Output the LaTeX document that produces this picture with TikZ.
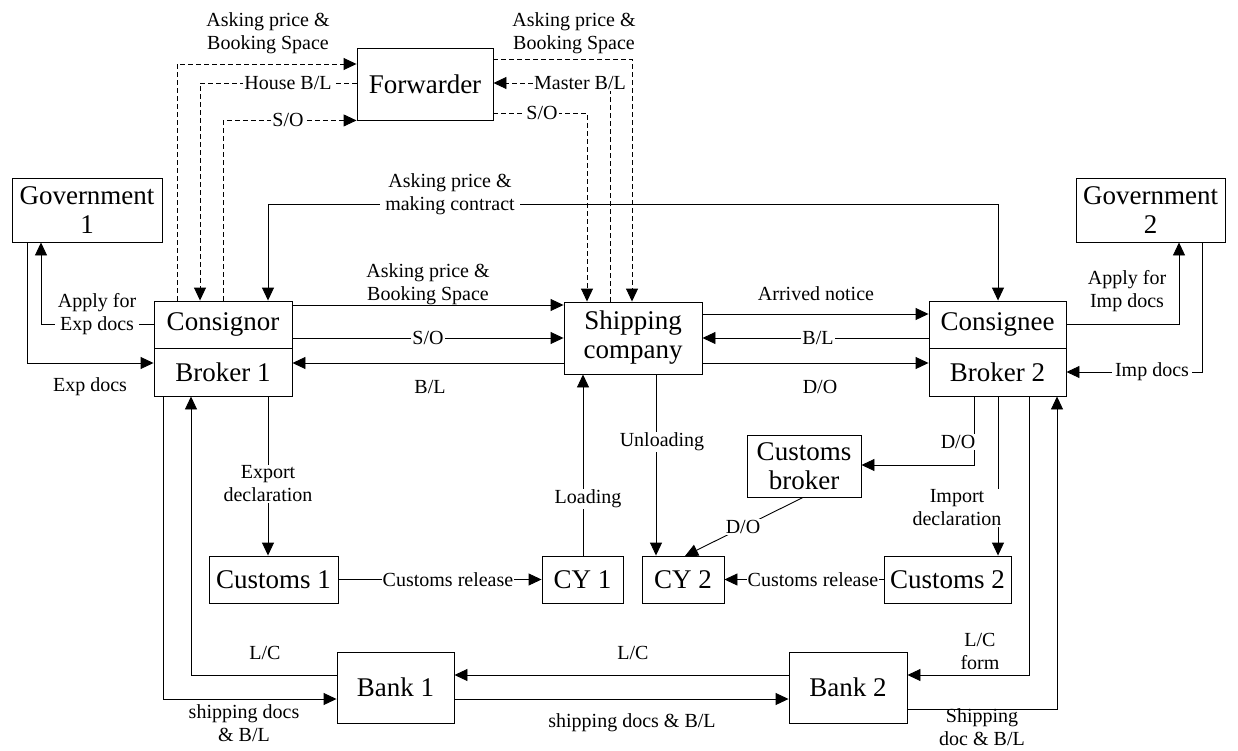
\documentclass[tikz,border=0pt]{standalone}
\usepackage{fontspec}
\setmainfont{Liberation Serif}
\usetikzlibrary{arrows.meta}
\begin{document}
\begin{tikzpicture}[x=1pt,y=-1pt,
  box/.style={draw, line width=0.9pt, inner sep=0pt, align=center,
              font=\fontsize{27}{29}\selectfont},
  lbl/.style={inner sep=1pt, align=center, font=\fontsize{20}{23}\selectfont},
  cut/.style={lbl, fill=white},
  link/.style={line width=0.9pt, -{Triangle[length=13pt,width=12pt]}},
  both/.style={line width=0.9pt,
               {Triangle[length=13pt,width=12pt]}-{Triangle[length=13pt,width=12pt]}},
  dsh/.style={link, dash pattern=on 5pt off 3pt},
]
\useasboundingbox (0,0) rectangle (1238,751);

% ---------- parties ----------
\node[box, minimum width=136pt, minimum height=72pt] (fwd)  at (425,84)     {Forwarder};
\node[box, minimum width=150pt, minimum height=64pt] (gov1) at (87,210)     {Government\\1};
\node[box, minimum width=149pt, minimum height=64pt] (gov2) at (1150.5,210) {Government\\2};
\node[box, minimum width=138pt, minimum height=47pt] (csg)  at (223,324.5)  {Consignor};
\node[box, minimum width=138pt, minimum height=48pt] (brk1) at (223,372)    {Broker 1};
\node[box, minimum width=138pt, minimum height=72pt] (ship) at (633,338)    {Shipping\\company};
\node[box, minimum width=137pt, minimum height=47pt] (csn)  at (997.5,324.5){Consignee};
\node[box, minimum width=137pt, minimum height=48pt] (brk2) at (997.5,372)  {Broker 2};
\node[box, minimum width=114pt, minimum height=62pt] (cbr)  at (804,466)    {Customs\\broker};
\node[box, minimum width=129pt, minimum height=47pt] (cus1) at (273.5,579.5){Customs 1};
\node[box, minimum width=81pt,  minimum height=47pt] (cy1)  at (582.5,579.5){CY 1};
\node[box, minimum width=82pt,  minimum height=47pt] (cy2)  at (683,579.5)  {CY 2};
\node[box, minimum width=127pt, minimum height=47pt] (cus2) at (947.5,579.5){Customs 2};
\node[box, minimum width=117pt, minimum height=71pt] (bank1) at (395.5,687.5){Bank 1};
\node[box, minimum width=118pt, minimum height=71pt] (bank2) at (848,687.5)  {Bank 2};

% ---------- bend points of the connectors ----------
\coordinate (jA) at (177,64);
\coordinate (jB) at (200,83);
\coordinate (jC) at (223,120);
\coordinate (jD) at (587,113);
\coordinate (jE) at (610,83);
\coordinate (jF) at (632,59);
\coordinate (jG) at (268,204);
\coordinate (jH) at (998,204);
\coordinate (jK) at (41,325);
\coordinate (jL) at (27,363);
\coordinate (jM) at (1179,324);
\coordinate (jN) at (1202,372);
\coordinate (jO) at (268,480);
\coordinate (jP) at (163,699);
\coordinate (jQ) at (191,675);
\coordinate (jR) at (583,500);
\coordinate (jS) at (656,450);
\coordinate (jT) at (803,497);
\coordinate (jU) at (685,556);
\coordinate (jV) at (974,465);
\coordinate (jW) at (998,500);
\coordinate (jX) at (1029,675);
\coordinate (jY) at (1057,709);
\coordinate (r1) at (430,305);
\coordinate (r2) at (430,338);
\coordinate (r3) at (430,363);
\coordinate (r4) at (816,314);

% ---------- forwarder (dashed) ----------
\draw[dsh] (csg.north -| jA) |- (fwd.west |- jA);
\draw[dsh] (fwd.west |- jB) -| (csg.north -| jB);
\draw[dsh] (csg.north -| jC) |- (fwd.south west);
\draw[dsh] (fwd.east |- jD) -| (ship.north -| jD);
\draw[dsh] (ship.north -| jE) |- (fwd.east |- jE);
\draw[dsh] (fwd.east |- jF) -| (ship.north -| jF);

% ---------- consignor / consignee / shipping company ----------
\draw[both] (csg.north -| jG) -- (jG) -- (jH) -- (csn.north -| jH);
\draw[link] (csg.east |- r1) -- (ship.west |- r1);
\draw[link] (csg.east |- r2) -- (ship.west |- r2);
\draw[link] (ship.west |- r3) -- (brk1.east |- r3);
\draw[link] (ship.east |- r4) -- (csn.west |- r4);
\draw[link] (csn.west |- r2) -- (ship.east |- r2);
\draw[link] (ship.east |- r3) -- (brk2.west |- r3);

% ---------- governments ----------
\draw[link] (csg.west) -| (gov1.south -| jK);
\draw[link] (gov1.south -| jL) |- (brk1.west |- jL);
\draw[link] (csn.east) -| (gov2.south -| jM);
\draw[link] (gov2.south -| jN) |- (brk2.east |- jN);

% ---------- customs and container yards ----------
\draw[link] (brk1.south -| jO) -- (cus1.north -| jO);
\draw[link] (cus1.east) -- (cy1.west);
\draw[link] (cy1.north -| jR) -- (ship.south -| jR);
\draw[link] (ship.south -| jS) -- (cy2.north -| jS);
\draw[link] (cbr.south -| jT) -- (jU);
\draw[link] (cus2.west) -- (cy2.east);
\draw[link] (brk2.south -| jV) |- (cbr.east |- jV);
\draw[link] (brk2.south -| jW) -- (cus2.north -| jW);

% ---------- banks ----------
\draw[link] (brk1.south -| jP) |- (bank1.west |- jP);
\draw[link] (bank1.west |- jQ) -| (brk1.south -| jQ);
\draw[link] (bank2.west |- jQ) -- (bank1.east |- jQ);
\draw[link] (bank1.east |- jP) -- (bank2.west |- jP);
\draw[link] (brk2.south -| jX) |- (bank2.east |- jX);
\draw[link] (bank2.east |- jY) -| (brk2.south -| jY);

% ---------- labels ----------
\node[lbl] (l01) at (268,33)  {Asking price \&\\Booking Space};
\node[cut] (l02) at (288,83)  {House B/L};
\node[cut] (l03) at (288,120) {S/O};
\node[lbl] (l04) at (574,33)  {Asking price \&\\Booking Space};
\node[cut] (l05) at (580,83)  {Master B/L};
\node[cut] (l06) at (542,113) {S/O};
\node[cut, inner xsep=5pt] (l07) at (450,194) {Asking price \&\\making contract};
\node[lbl] (l08) at (428,284) {Asking price \&\\Booking Space};
\node[cut] (l09) at (428,338) {S/O};
\node[lbl] (l10) at (430,387) {B/L};
\node[lbl] (l11) at (816,294) {Arrived notice};
\node[cut] (l12) at (818,338) {B/L};
\node[lbl] (l13) at (820,387) {D/O};
\node[cut, inner xsep=3pt] (l14) at (97,314) {Apply for\\Exp docs};
\node[lbl] (l15) at (90,387)  {Exp docs};
\node[lbl] (l16) at (1127,291) {Apply for\\Imp docs};
\node[cut, inner xsep=3pt] (l17) at (1152,372) {Imp docs};
\node[cut] (l18) at (268,484) {Export\\declaration};
\node[lbl] (l19) at (244,723) {shipping docs\\\& B/L};
\node[lbl] (l20) at (265,653) {L/C};
\node[cut] (l21) at (448,580) {Customs release};
\node[cut] (l22) at (588,499) {Loading};
\node[cut] (l23) at (662,442) {Unloading};
\node[cut] (l24) at (743,527) {D/O};
\node[cut] (l25) at (813,580) {Customs release};
\node[cut] (l26) at (958,442) {D/O};
\node[cut, inner xsep=3pt] (l27) at (957,508) {Import\\declaration};
\node[lbl] (l28) at (980,651) {L/C\\form};
\node[lbl] (l29) at (982,727) {Shipping\\doc \& B/L};
\node[lbl] (l30) at (633,653) {L/C};
\node[lbl] (l31) at (632,723) {shipping docs \& B/L};
\end{tikzpicture}
\end{document}
